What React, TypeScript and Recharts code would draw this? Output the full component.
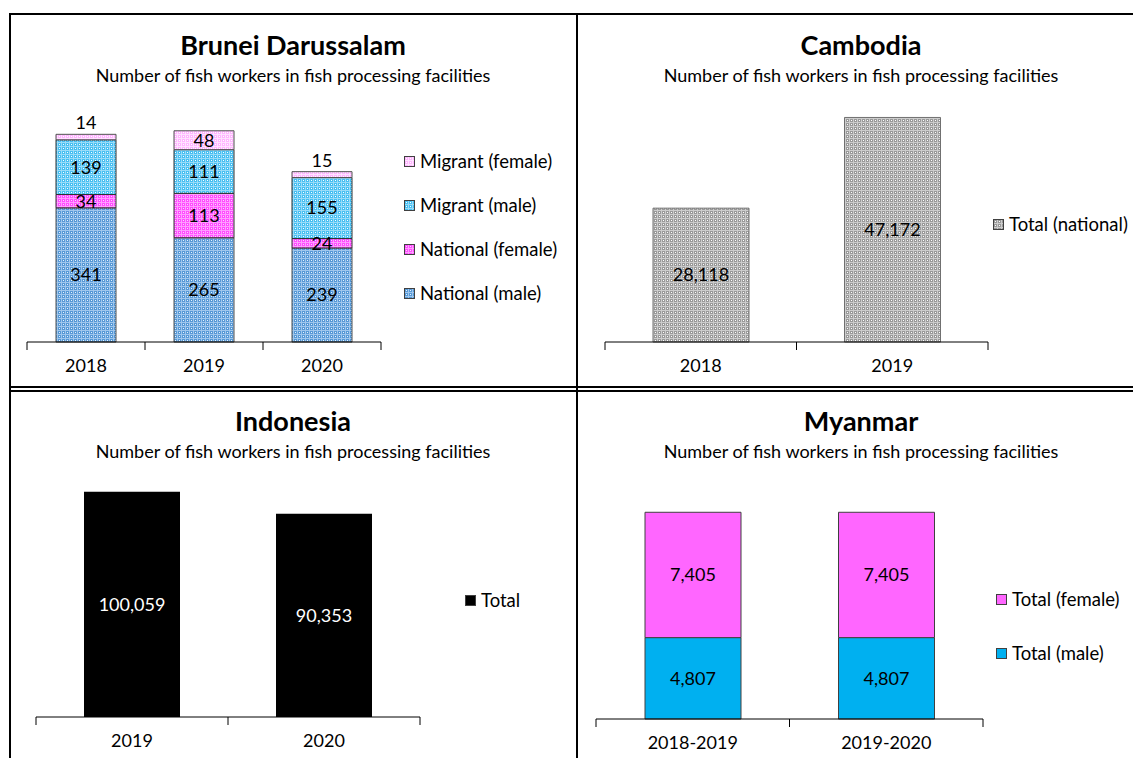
import React from 'react';
import { BarChart, Bar, XAxis, YAxis, Legend, LabelList } from 'recharts';

const FONT = 'Lato, "Open Sans", sans-serif';

// Brunei Darussalam
const bruneiYears = ['2018', '2019', '2020'];
const bruneiNationalMale = [341, 265, 239];
const bruneiNationalFemale = [34, 113, 24];
const bruneiMigrantMale = [139, 111, 155];
const bruneiMigrantFemale = [14, 48, 15];

// Cambodia
const cambodiaYears = ['2018', '2019'];
const cambodiaTotal = [28118, 47172];

// Indonesia
const indonesiaYears = ['2019', '2020'];
const indonesiaTotal = [100059, 90353];

// Myanmar
const myanmarPeriods = ['2018-2019', '2019-2020'];
const myanmarMale = [4807, 4807];
const myanmarFemale = [7405, 7405];

const SUBTITLE = 'Number of fish workers in fish processing facilities';

const bruneiData = bruneiYears.map((year, i) => ({
  year,
  nationalMale: bruneiNationalMale[i],
  nationalFemale: bruneiNationalFemale[i],
  migrantMale: bruneiMigrantMale[i],
  migrantFemale: bruneiMigrantFemale[i],
}));
const cambodiaData = cambodiaYears.map((year, i) => ({ year, total: cambodiaTotal[i] }));
const indonesiaData = indonesiaYears.map((year, i) => ({ year, total: indonesiaTotal[i] }));
const myanmarData = myanmarPeriods.map((period, i) => ({
  period,
  male: myanmarMale[i],
  female: myanmarFemale[i],
}));

const fmt = (v: any) => Number(v).toLocaleString('en-US');

// category axis with tick marks between categories, like Excel
const makeTick = (step: number, count: number) => (props: any) => {
  const { x, y, payload, index } = props;
  return (
    <g>
      <line x1={x - step / 2} x2={x - step / 2} y1={y} y2={y + 8} stroke="#000" />
      {index === count - 1 && (
        <line x1={x + step / 2} x2={x + step / 2} y1={y} y2={y + 8} stroke="#000" />
      )}
      <text
        x={x}
        y={y + 23}
        textAnchor="middle"
        dominantBaseline="central"
        fontSize={18}
        fontFamily={FONT}
        fill="#000"
      >
        {payload.value}
      </text>
    </g>
  );
};

const makeLegend = (items: { label: string; fill: string }[], gap: number) => () => (
  <div style={{ fontFamily: FONT, fontSize: 18.5, color: '#000' }}>
    {items.map((it) => (
      <div key={it.label} style={{ height: gap, display: 'flex', alignItems: 'center', whiteSpace: 'nowrap' }}>
        <svg width={11} height={11} style={{ marginRight: 5 }}>
          <rect x={0.5} y={0.5} width={10} height={10} fill={it.fill} stroke="#404040" strokeWidth={1} />
        </svg>
        <span>{it.label}</span>
      </div>
    ))}
  </div>
);

// small label for thin top segments goes above the bar
const migrantFemaleLabel = (props: any) => {
  const { x, y, width, height, value } = props;
  const cy = height < 12 ? y - 12 : y + height / 2;
  return (
    <text
      x={x + width / 2}
      y={cy}
      textAnchor="middle"
      dominantBaseline="central"
      fontSize={18}
      fontFamily={FONT}
      fill="#000"
    >
      {value}
    </text>
  );
};

const labelStyle = { fontSize: 18, fontFamily: FONT, fill: '#000' };

function Title({ cx, cy, title }: { cx: number; cy: number; title: string }) {
  return (
    <>
      <div
        style={{
          position: 'absolute',
          left: cx - 300,
          top: cy - 17,
          width: 600,
          height: 34,
          lineHeight: '34px',
          textAlign: 'center',
          fontFamily: FONT,
          fontWeight: 700,
          fontSize: 27,
          color: '#000',
        }}
      >
        {title}
      </div>
      <div
        style={{
          position: 'absolute',
          left: cx - 300,
          top: cy + 30 - 12,
          width: 600,
          height: 24,
          lineHeight: '24px',
          textAlign: 'center',
          fontFamily: FONT,
          fontSize: 18,
          color: '#000',
        }}
      >
        {SUBTITLE}
      </div>
    </>
  );
}

function Line({ left, top, width, height }: { left: number; top: number; width: number; height: number }) {
  return <div style={{ position: 'absolute', left, top, width, height, background: '#000' }} />;
}

function Patterns() {
  const pat = (id: string, base: string, line: string, dot: string) => (
    <pattern id={id} x={0} y={0} width={4} height={4} patternUnits="userSpaceOnUse">
      <rect x={0} y={0} width={4} height={4} fill={base} />
      <rect x={0} y={0} width={4} height={1} fill={line} />
      <rect x={0} y={0} width={1} height={4} fill={line} />
      <rect x={2} y={2} width={1} height={1} fill={dot} />
    </pattern>
  );
  return (
    <svg width={0} height={0} style={{ position: 'absolute' }}>
      <defs>
        {pat('pNatMale', '#5598d6', '#9fc6ec', '#e8f2fb')}
        {pat('pMigMale', '#45bff2', '#99dbf8', '#ffffff')}
        {pat('pNatFemale', '#ff4cff', '#ff9dff', '#ffd6ff')}
        {pat('pMigFemale', '#ffb5ff', '#ffe2ff', '#ffffff')}
        {pat('pGray', '#999999', '#cccccc', '#ffffff')}
      </defs>
    </svg>
  );
}

export default function App() {
  return (
    <div
      style={{
        position: 'absolute',
        left: 0,
        top: 0,
        width: 1133,
        height: 758,
        background: '#fff',
        overflow: 'hidden',
      }}
    >
      <Patterns />

      {/* Brunei Darussalam */}
      <div style={{ position: 'absolute', left: 9, top: 14 }}>
        <BarChart width={568} height={374} data={bruneiData} margin={{ top: 92, right: 196, bottom: 16, left: 18 }}>
          <XAxis
            dataKey="year"
            height={30}
            axisLine={{ stroke: '#000' }}
            tickLine={false}
            tickSize={0}
            tickMargin={0}
            tick={makeTick(118, 3)}
            interval={0}
          />
          <YAxis hide domain={[0, 600]} />
          <Legend
            layout="vertical"
            align="center"
            verticalAlign="middle"
            wrapperStyle={{ left: 395, top: 125, width: 'auto' }}
            content={makeLegend(
              [
                { label: 'Migrant (female)', fill: 'url(#pMigFemale)' },
                { label: 'Migrant (male)', fill: 'url(#pMigMale)' },
                { label: 'National (female)', fill: 'url(#pNatFemale)' },
                { label: 'National (male)', fill: 'url(#pNatMale)' },
              ],
              44
            )}
          />
          <Bar dataKey="nationalMale" name="National (male)" stackId="a" barSize={60} fill="url(#pNatMale)" stroke="#505050" strokeWidth={1} isAnimationActive={false}>
            <LabelList dataKey="nationalMale" position="center" style={labelStyle} />
          </Bar>
          <Bar dataKey="nationalFemale" name="National (female)" stackId="a" barSize={60} fill="url(#pNatFemale)" stroke="#303030" strokeWidth={1} isAnimationActive={false}>
            <LabelList dataKey="nationalFemale" position="center" style={labelStyle} />
          </Bar>
          <Bar dataKey="migrantMale" name="Migrant (male)" stackId="a" barSize={60} fill="url(#pMigMale)" stroke="#303030" strokeWidth={1} isAnimationActive={false}>
            <LabelList dataKey="migrantMale" position="center" style={labelStyle} />
          </Bar>
          <Bar dataKey="migrantFemale" name="Migrant (female)" stackId="a" barSize={60} fill="url(#pMigFemale)" stroke="#505050" strokeWidth={1} isAnimationActive={false}>
            <LabelList dataKey="migrantFemale" content={migrantFemaleLabel} />
          </Bar>
        </BarChart>
      </div>

      {/* Cambodia */}
      <div style={{ position: 'absolute', left: 577, top: 14 }}>
        <BarChart width={556} height={374} data={cambodiaData} margin={{ top: 90, right: 145, bottom: 16, left: 28 }}>
          <XAxis
            dataKey="year"
            height={30}
            axisLine={{ stroke: '#000' }}
            tickLine={false}
            tickSize={0}
            tickMargin={0}
            tick={makeTick(191.5, 2)}
            interval={0}
          />
          <YAxis hide domain={[0, 50000]} />
          <Legend
            layout="vertical"
            align="center"
            verticalAlign="middle"
            wrapperStyle={{ left: 416, top: 195, width: 'auto' }}
            content={makeLegend([{ label: 'Total (national)', fill: 'url(#pGray)' }], 30)}
          />
          <Bar dataKey="total" name="Total (national)" barSize={96} fill="url(#pGray)" stroke="#707070" strokeWidth={1} isAnimationActive={false}>
            <LabelList dataKey="total" position="center" formatter={fmt} style={labelStyle} />
          </Bar>
        </BarChart>
      </div>

      {/* Indonesia */}
      <div style={{ position: 'absolute', left: 9, top: 390 }}>
        <BarChart width={568} height={368} data={indonesiaData} margin={{ top: 57, right: 157, bottom: 11, left: 27 }}>
          <XAxis
            dataKey="year"
            height={30}
            axisLine={{ stroke: '#000' }}
            tickLine={false}
            tickSize={0}
            tickMargin={0}
            tick={makeTick(192, 2)}
            interval={0}
          />
          <YAxis hide domain={[0, 120000]} />
          <Legend
            layout="vertical"
            align="center"
            verticalAlign="middle"
            wrapperStyle={{ left: 456, top: 195, width: 'auto' }}
            content={makeLegend([{ label: 'Total', fill: '#000' }], 30)}
          />
          <Bar dataKey="total" name="Total" barSize={96} fill="#000" isAnimationActive={false}>
            <LabelList dataKey="total" position="center" formatter={fmt} style={{ ...labelStyle, fill: '#fff' }} />
          </Bar>
        </BarChart>
      </div>

      {/* Myanmar */}
      <div style={{ position: 'absolute', left: 577, top: 390 }}>
        <BarChart width={556} height={368} data={myanmarData} margin={{ top: 92, right: 150, bottom: 9, left: 19 }}>
          <XAxis
            dataKey="period"
            height={30}
            axisLine={{ stroke: '#000' }}
            tickLine={false}
            tickSize={0}
            tickMargin={0}
            tick={makeTick(193.5, 2)}
            interval={0}
          />
          <YAxis hide domain={[0, 14000]} />
          <Legend
            layout="vertical"
            align="center"
            verticalAlign="middle"
            wrapperStyle={{ left: 419, top: 182, width: 'auto' }}
            content={makeLegend(
              [
                { label: 'Total (female)', fill: '#ff66ff' },
                { label: 'Total (male)', fill: '#00b0f0' },
              ],
              54
            )}
          />
          <Bar dataKey="male" name="Total (male)" stackId="m" barSize={96} fill="#00b0f0" stroke="#404040" strokeWidth={1} isAnimationActive={false}>
            <LabelList dataKey="male" position="center" formatter={fmt} style={labelStyle} />
          </Bar>
          <Bar dataKey="female" name="Total (female)" stackId="m" barSize={96} fill="#ff66ff" stroke="#404040" strokeWidth={1} isAnimationActive={false}>
            <LabelList dataKey="female" position="center" formatter={fmt} style={labelStyle} />
          </Bar>
        </BarChart>
      </div>

      <Title cx={293} cy={45} title="Brunei Darussalam" />
      <Title cx={861} cy={45} title="Cambodia" />
      <Title cx={293} cy={421} title="Indonesia" />
      <Title cx={861} cy={421} title="Myanmar" />

      {/* panel borders */}
      <Line left={9} top={13} width={1124} height={2} />
      <Line left={9} top={13} width={2} height={745} />
      <Line left={576} top={13} width={2} height={745} />
      <Line left={9} top={386} width={1124} height={2} />
      <Line left={9} top={390} width={1124} height={2} />
    </div>
  );
}
